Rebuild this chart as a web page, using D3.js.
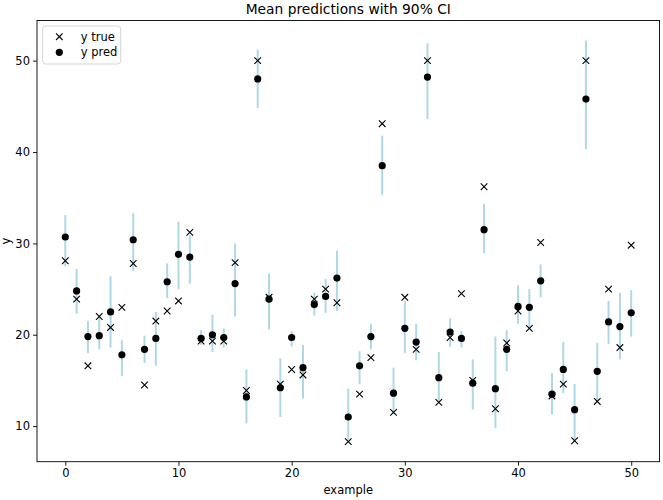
<!DOCTYPE html>
<html>
<head>
<meta charset="utf-8">
<script src="https://cdn.jsdelivr.net/npm/d3@7/dist/d3.min.js"></script>
<style>
  html, body { margin: 0; padding: 0; background: #fff; }
  svg { display: block; font-family: "DejaVu Sans", sans-serif; }
</style>
</head>
<body>
<div id="chart"></div>
<script>
// ---- Data ----
const titleText = "Mean predictions with 90% CI";
const xLabel = "example";
const yLabel = "y";
const xTicks = [0, 10, 20, 30, 40, 50];
const yTicks = [10, 20, 30, 40, 50];
const seriesNames = ["y true", "y pred"];

const yTrue = [28.1, 23.9, 16.6, 22.0, 20.8, 23.0, 27.8, 14.5, 21.5, 22.6,
               23.7, 31.2, 19.3, 19.3, 19.3, 27.9, 13.9, 50.0, 24.1, 14.6,
               16.2, 15.6, 23.9, 25.0, 23.5, 8.3, 13.5, 17.5, 43.1, 11.5,
               24.1, 18.4, 50.0, 12.6, 19.7, 24.5, 15.0, 36.2, 11.9, 19.1,
               22.6, 20.7, 30.1, 13.3, 14.6, 8.4, 50.0, 12.7, 25.0, 18.6, 29.8];

const yPred = [30.7, 24.8, 19.8, 19.9, 22.5, 17.8, 30.4, 18.4, 19.6, 25.8,
               28.8, 28.5, 19.6, 20.0, 19.7, 25.6, 13.2, 48.0, 23.9, 14.2,
               19.7, 16.4, 23.3, 24.2, 26.2, 11.0, 16.6, 19.8, 38.5, 13.6,
               20.7, 19.2, 48.2, 15.3, 20.3, 19.6, 14.7, 31.5, 14.1, 18.4,
               23.1, 23.0, 25.9, 13.5, 16.2, 11.8, 45.8, 16.0, 21.4, 20.9, 22.4];

const ciLow = [27.5, 22.3, 18.0, 18.4, 18.6, 15.5, 27.0, 16.9, 16.6, 24.0,
               25.0, 25.6, 18.9, 18.1, 18.6, 22.0, 10.3, 44.8, 20.6, 11.0,
               18.7, 13.0, 22.1, 22.4, 22.6, 8.5, 14.6, 18.4, 35.3, 11.3,
               18.0, 17.2, 43.6, 12.7, 18.7, 18.6, 11.8, 28.9, 9.8, 16.0,
               21.2, 20.8, 24.1, 11.3, 13.6, 8.4, 40.3, 12.8, 19.0, 17.3, 19.8];

const ciHigh = [33.1, 27.2, 21.5, 22.1, 26.4, 19.4, 33.3, 19.9, 22.5, 27.8,
                32.4, 30.9, 20.5, 22.2, 20.7, 30.0, 16.2, 51.2, 26.7, 17.4,
                20.4, 18.9, 24.6, 26.1, 29.2, 14.1, 18.2, 21.2, 41.8, 16.4,
                23.7, 21.2, 51.9, 18.1, 21.8, 20.4, 17.3, 34.3, 19.8, 20.5,
                25.4, 25.0, 27.7, 15.8, 19.2, 14.6, 52.2, 19.1, 23.7, 24.6, 24.9];

// ---- Layout ----
const W = 663, H = 500;
const margin = {top: 20.5, right: 3.5, bottom: 38.3, left: 37};
const iw = W - margin.left - margin.right;
const ih = H - margin.top - margin.bottom;

const svg = d3.select("#chart").append("svg")
  .attr("width", W).attr("height", H);

const idx = yTrue.map((_, i) => i);
const xMin = d3.min(idx), xMax = d3.max(idx);
const xPad = (xMax - xMin) * 0.05;
const x = d3.scaleLinear().domain([xMin - xPad, xMax + xPad]).range([0, iw]);

const allY = yTrue.concat(yPred, ciLow, ciHigh);
const yMin = d3.min(allY), yMax = d3.max(allY);
const yPad = (yMax - yMin) * 0.05;
const y = d3.scaleLinear().domain([yMin - yPad, yMax + yPad]).range([ih, 0]);

const g = svg.append("g").attr("transform", `translate(${margin.left},${margin.top})`);

// error bars
g.append("g").selectAll("line").data(idx).join("line")
  .attr("x1", i => x(i)).attr("x2", i => x(i))
  .attr("y1", i => y(ciLow[i])).attr("y2", i => y(ciHigh[i]))
  .attr("stroke", "#add8e6").attr("stroke-width", 2);

// true markers (x)
const xs = 3.3;
g.append("g").selectAll("path").data(idx).join("path")
  .attr("d", i => {
    const cx = x(i), cy = y(yTrue[i]);
    return `M${cx - xs},${cy - xs}L${cx + xs},${cy + xs}M${cx - xs},${cy + xs}L${cx + xs},${cy - xs}`;
  })
  .attr("stroke", "#000").attr("stroke-width", 1.1).attr("fill", "none");

// pred markers (dots)
g.append("g").selectAll("circle").data(idx).join("circle")
  .attr("cx", i => x(i)).attr("cy", i => y(yPred[i]))
  .attr("r", 3.6).attr("fill", "#000");

// axes
const xAxis = d3.axisBottom(x).tickValues(xTicks).tickSize(4).tickSizeOuter(0).tickPadding(3);
const yAxis = d3.axisLeft(y).tickValues(yTicks).tickSize(4).tickSizeOuter(0).tickPadding(3);

const gx = g.append("g").attr("transform", `translate(0,${ih})`).call(xAxis);
const gy = g.append("g").call(yAxis);
[gx, gy].forEach(a => {
  a.select(".domain").remove();
  a.selectAll("text").attr("font-size", 11.5).attr("font-family", "DejaVu Sans").attr("fill", "#000");
  a.selectAll("line").attr("stroke", "#000").attr("stroke-width", 0.9);
});

// frame
g.append("rect").attr("x", 0).attr("y", 0).attr("width", iw).attr("height", ih)
  .attr("fill", "none").attr("stroke", "#000").attr("stroke-width", 0.9);

// title & labels
svg.append("text").attr("x", margin.left + iw / 2).attr("y", 14)
  .attr("text-anchor", "middle").attr("font-size", 13.8).text(titleText);
svg.append("text").attr("x", margin.left + iw / 2).attr("y", 494)
  .attr("text-anchor", "middle").attr("font-size", 11.5).text(xLabel);
svg.append("text").attr("transform", `translate(9.5,${margin.top + ih / 2}) rotate(-90)`)
  .attr("text-anchor", "middle").attr("font-size", 11.5).text(yLabel);

// legend
const lg = svg.append("g").attr("transform", "translate(42.7,26)");
lg.append("rect").attr("width", 78).attr("height", 38).attr("rx", 3)
  .attr("fill", "#fff").attr("fill-opacity", 0.8)
  .attr("stroke", "#d0d0d0").attr("stroke-width", 0.9);
const r1 = 10.7, r2 = 26.3, mx = 16.6;
lg.append("path")
  .attr("d", `M${mx - xs},${r1 - xs}L${mx + xs},${r1 + xs}M${mx - xs},${r1 + xs}L${mx + xs},${r1 - xs}`)
  .attr("stroke", "#000").attr("stroke-width", 1.1);
lg.append("circle").attr("cx", mx).attr("cy", r2).attr("r", 3.6).attr("fill", "#000");
lg.append("text").attr("x", 38).attr("y", r1).attr("dy", "0.35em").attr("font-size", 11.5).text(seriesNames[0]);
lg.append("text").attr("x", 38).attr("y", r2).attr("dy", "0.35em").attr("font-size", 11.5).text(seriesNames[1]);
</script>
</body>
</html>
